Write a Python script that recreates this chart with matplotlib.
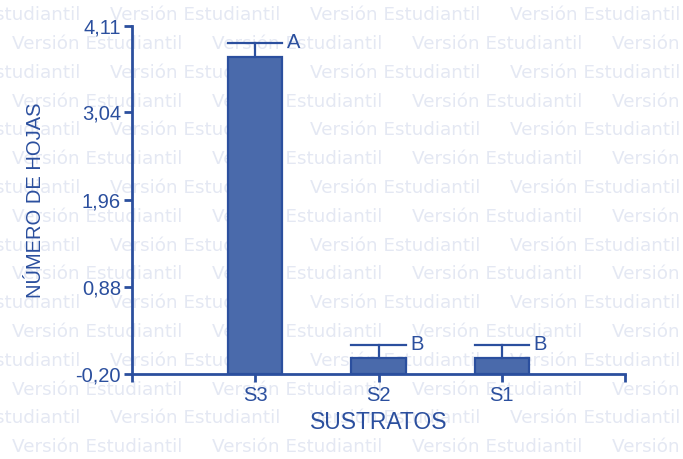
import matplotlib.pyplot as plt

# datos
sustratos = ['S3', 'S2', 'S1']
medias = [3.73, 0.0, 0.0]
errores = [0.17, 0.16, 0.16]
letras = ['A', 'B', 'B']
y_ticks = [-0.20, 0.88, 1.96, 3.04, 4.11]
y_labels = ['-0,20', '0,88', '1,96', '3,04', '4,11']

azul = '#2b4f9e'
relleno = '#4a6aab'
marca = '#e4e8f3'

plt.rcParams['font.family'] = ['Liberation Sans', 'DejaVu Sans']

fig = plt.figure(figsize=(6.83, 4.59), dpi=100)
ax = fig.add_axes([0.1933, 0.1852, 0.7218, 0.7582])
ax.patch.set_alpha(0)

# marca de agua de fondo
fila = 0
y = 0.967
while y > -0.03:
    x0 = 0.161 if fila % 2 == 0 else 0.0176
    x = x0 - 2 * 0.2928
    while x < 1.0:
        fig.text(x, y, 'Versión Estudiantil', family='DejaVu Sans', fontsize=13.2,
                 color=marca, va='center', ha='left', zorder=-5)
        x += 0.2928
    y -= 28.8 / 459
    fila += 1

pos = [1, 2, 3]
ancho = 0.44
base = y_ticks[0]
alturas = [m - base for m in medias]
ax.bar(pos, alturas, width=ancho, bottom=base, color=relleno, edgecolor=azul,
       linewidth=1.6, zorder=2)

for p, m, e, l in zip(pos, medias, errores, letras):
    ax.plot([p, p], [m, m + e], color=azul, lw=1.6, zorder=3)
    ax.plot([p - ancho / 2, p + ancho / 2], [m + e, m + e], color=azul, lw=1.6, zorder=3)
    ax.text(p + ancho / 2 + 0.04, m + e, l, color=azul, fontsize=14.5,
            va='center', ha='left')

ax.set_xlim(0, 4)
ax.set_ylim(y_ticks[0], y_ticks[-1])
ax.set_yticks(y_ticks)
ax.set_yticklabels(y_labels)
ax.set_xticks([0, 1, 2, 3, 4])
ax.set_xticklabels([''] + sustratos + [''])

for s in ['top', 'right']:
    ax.spines[s].set_visible(False)
for s in ['left', 'bottom']:
    ax.spines[s].set_color(azul)
    ax.spines[s].set_linewidth(2)

ax.tick_params(axis='both', colors=azul, length=6, width=2, labelsize=14.5, pad=2)
ax.tick_params(axis='x', pad=3)

ax.set_xlabel('SUSTRATOS', color=azul, fontsize=16.5, labelpad=4)
ax.set_ylabel('NÚMERO DE HOJAS', color=azul, fontsize=14.5, labelpad=22)

fig.savefig('out.png', dpi=100)
